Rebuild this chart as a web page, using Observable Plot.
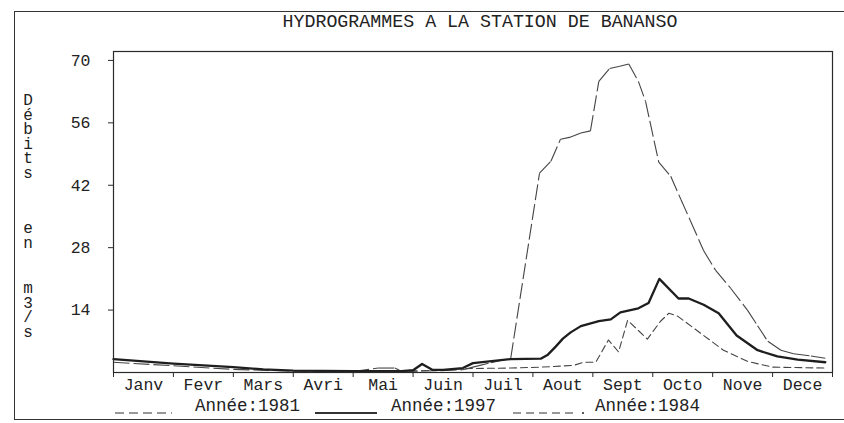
<!DOCTYPE html>
<html><head><meta charset="utf-8">
<script src="https://cdn.jsdelivr.net/npm/d3@7"></script>
<script src="https://cdn.jsdelivr.net/npm/@observablehq/plot@0.6"></script>
<style>
html,body{margin:0;padding:0;background:#fff;}
#wrap{position:relative;width:844px;height:423px;overflow:hidden;background:#fff;font-family:"Liberation Mono","DejaVu Sans Mono",monospace;color:#222;}
#border{position:absolute;left:14px;top:11px;width:900px;height:407px;border-left:1.5px solid #333;border-top:1.5px solid #333;border-bottom:1.5px solid #333;}
#title{position:absolute;top:11px;left:280px;width:400px;text-align:center;font-size:18.3px;line-height:22px;white-space:nowrap;}
.yl{position:absolute;left:20px;font-size:16px;line-height:16px;writing-mode:vertical-rl;text-orientation:upright;letter-spacing:-3.5px;white-space:nowrap;}
#chart{position:absolute;left:0;top:0;}
.lg{position:absolute;top:397px;font-size:17.5px;line-height:18px;white-space:nowrap;}
.lgs{position:absolute;top:405px;}
</style></head>
<body>
<div id="wrap">
  <div id="border"></div>
  <div id="chart"></div>
  <div id="title"></div>
  <div id="ylab"></div>
  <div id="legend"></div>
</div>
<script>
const titleText = "HYDROGRAMMES A LA STATION DE BANANSO";
const yLabelWords = ["Débits", "en", "m3/s"];
const months = ["Janv","Fevr","Mars","Avri","Mai","Juin","Juil","Aout","Sept","Octo","Nove","Dece"];
const yTicks = [14, 28, 42, 56, 70];
const seriesNames = ["Année:1981", "Année:1997", "Année:1984"];

// x in months from 1 January (0) to 31 December (12); y in m3/s
const m1981 = [0, 1.0, 2.0, 3.0, 4.0, 4.42, 4.7, 4.8, 5.46, 5.83, 6.0, 6.3, 6.63, 7.11, 7.3, 7.46, 7.63, 7.8, 7.96, 8.1, 8.28, 8.45, 8.6, 8.76, 8.88, 9.1, 9.3, 9.47, 9.63, 9.85, 10.05, 10.3, 10.58, 10.75, 10.92, 11.14, 11.35, 11.64, 11.88];
const q1981 = [2.3, 1.5, 0.7, 0.3, 0.2, 1.0, 1.0, 0.3, 0.4, 0.6, 1.2, 2.2, 3.2, 44.7, 47.4, 52.3, 52.8, 53.7, 54.2, 65.3, 68.2, 68.7, 69.2, 65.3, 60.8, 47.2, 44.0, 38.8, 34.0, 27.3, 22.9, 18.9, 14.0, 10.5, 7.0, 5.0, 4.2, 3.7, 3.2];

const m1997 = [0, 1.0, 2.0, 2.5, 3.0, 4.0, 4.8, 5.0, 5.15, 5.32, 5.5, 5.83, 6.0, 6.63, 7.13, 7.25, 7.38, 7.5, 7.63, 7.8, 8.1, 8.3, 8.46, 8.76, 8.93, 9.11, 9.43, 9.6, 9.85, 10.1, 10.4, 10.75, 11.08, 11.42, 11.88];
const q1997 = [3.0, 2.0, 1.2, 0.7, 0.4, 0.3, 0.3, 0.5, 1.9, 0.6, 0.6, 1.0, 2.1, 3.0, 3.1, 4.0, 5.8, 7.6, 9.0, 10.4, 11.5, 11.9, 13.5, 14.4, 15.6, 21.0, 16.6, 16.6, 15.2, 13.3, 8.3, 5.0, 3.6, 2.9, 2.3];

const m1984 = [0, 2.0, 3.0, 4.0, 5.0, 6.0, 6.63, 7.13, 7.68, 7.85, 8.05, 8.26, 8.43, 8.58, 8.91, 9.13, 9.27, 9.42, 9.8, 10.18, 10.58, 11.0, 11.88];
const q1984 = [0.0, 0.0, 0.0, 0.2, 0.3, 0.9, 1.0, 1.2, 1.6, 2.3, 2.3, 7.3, 4.6, 11.7, 7.5, 11.5, 13.3, 12.6, 8.8, 5.0, 2.5, 1.2, 1.0];

const toRows = (ms, qs) => ms.map((m, i) => ({m, q: qs[i]}));
const d1997 = toRows(m1997, q1997);
const d1984 = toRows(m1984, q1984);
// 1981 drawn segment by segment, so the plotter-style dash pattern restarts on each segment
const s1981 = m1981.slice(1).map((m, i) => ({m1: m1981[i], q1: q1981[i], m2: m, q2: q1981[i + 1]}));

const fontFam = '"Liberation Mono","DejaVu Sans Mono",monospace';

const chart = Plot.plot({
  width: 844, height: 400,
  marginLeft: 113, marginRight: 12, marginTop: 51, marginBottom: 28,
  x: {domain: [0, 12]},
  y: {domain: [0, 72]},
  style: {fontFamily: fontFam, fontSize: "16.5px", color: "#222", background: "transparent", overflow: "visible"},
  marks: [
    Plot.line(d1984, {x: "m", y: "q", stroke: "#444", strokeWidth: 1.1, strokeDasharray: "7,4"}),
    Plot.link(s1981, {x1: "m1", y1: "q1", x2: "m2", y2: "q2", stroke: "#444", strokeWidth: 1.1, strokeDasharray: "16,4"}),
    Plot.line(d1997, {x: "m", y: "q", stroke: "#1e1e1e", strokeWidth: 2.3}),
    Plot.frame({stroke: "#2a2a2a", strokeWidth: 1.2}),
    Plot.axisY(yTicks, {tickSize: 5, tickPadding: 18, label: null, fontSize: 16.5, stroke: "#2a2a2a"}),
    Plot.axisX(d3.range(13), {tickSize: 5, tickFormat: () => "", label: null, stroke: "#2a2a2a"}),
    Plot.axisX(d3.range(12).map(i => i + 0.5), {tickSize: 0, tickPadding: 6, label: null, fontSize: 16.5,
      tickFormat: d => months[Math.floor(d)]})
  ]
});
document.getElementById("chart").appendChild(chart);

document.getElementById("title").textContent = titleText;

// vertical y-axis label, upright stacked characters, one block per word
const wordTop = [92, 220, 280];
const ylab = document.getElementById("ylab");
yLabelWords.forEach((w, i) => {
  const el = document.createElement("div");
  el.className = "yl";
  el.textContent = w;
  el.style.top = wordTop[i] + "px";
  ylab.appendChild(el);
});

// legend
const legend = document.getElementById("legend");
const samples = [
  {x: 115, w: 57, dash: "9,5", sw: 1.1, dot: false},
  {x: 315, w: 62, dash: null, sw: 2.2, dot: false},
  {x: 513, w: 72, dash: "8,5", sw: 1.1, dot: true}
];
const textX = [195, 391, 595];
samples.forEach((s, i) => {
  const svg = d3.create("svg").attr("class", "lgs").attr("width", s.w + 10).attr("height", 12)
    .style("left", s.x + "px");
  svg.append("line").attr("x1", 0).attr("x2", s.dot ? s.w - 12 : s.w).attr("y1", 8).attr("y2", 8)
    .attr("stroke", "#333").attr("stroke-width", s.sw).attr("stroke-dasharray", s.dash);
  if (s.dot) svg.append("circle").attr("cx", s.w - 2).attr("cy", 8).attr("r", 1.1).attr("fill", "#333");
  legend.appendChild(svg.node());
  const t = document.createElement("div");
  t.className = "lg";
  t.style.left = textX[i] + "px";
  t.textContent = seriesNames[i];
  legend.appendChild(t);
});
</script>
</body></html>
